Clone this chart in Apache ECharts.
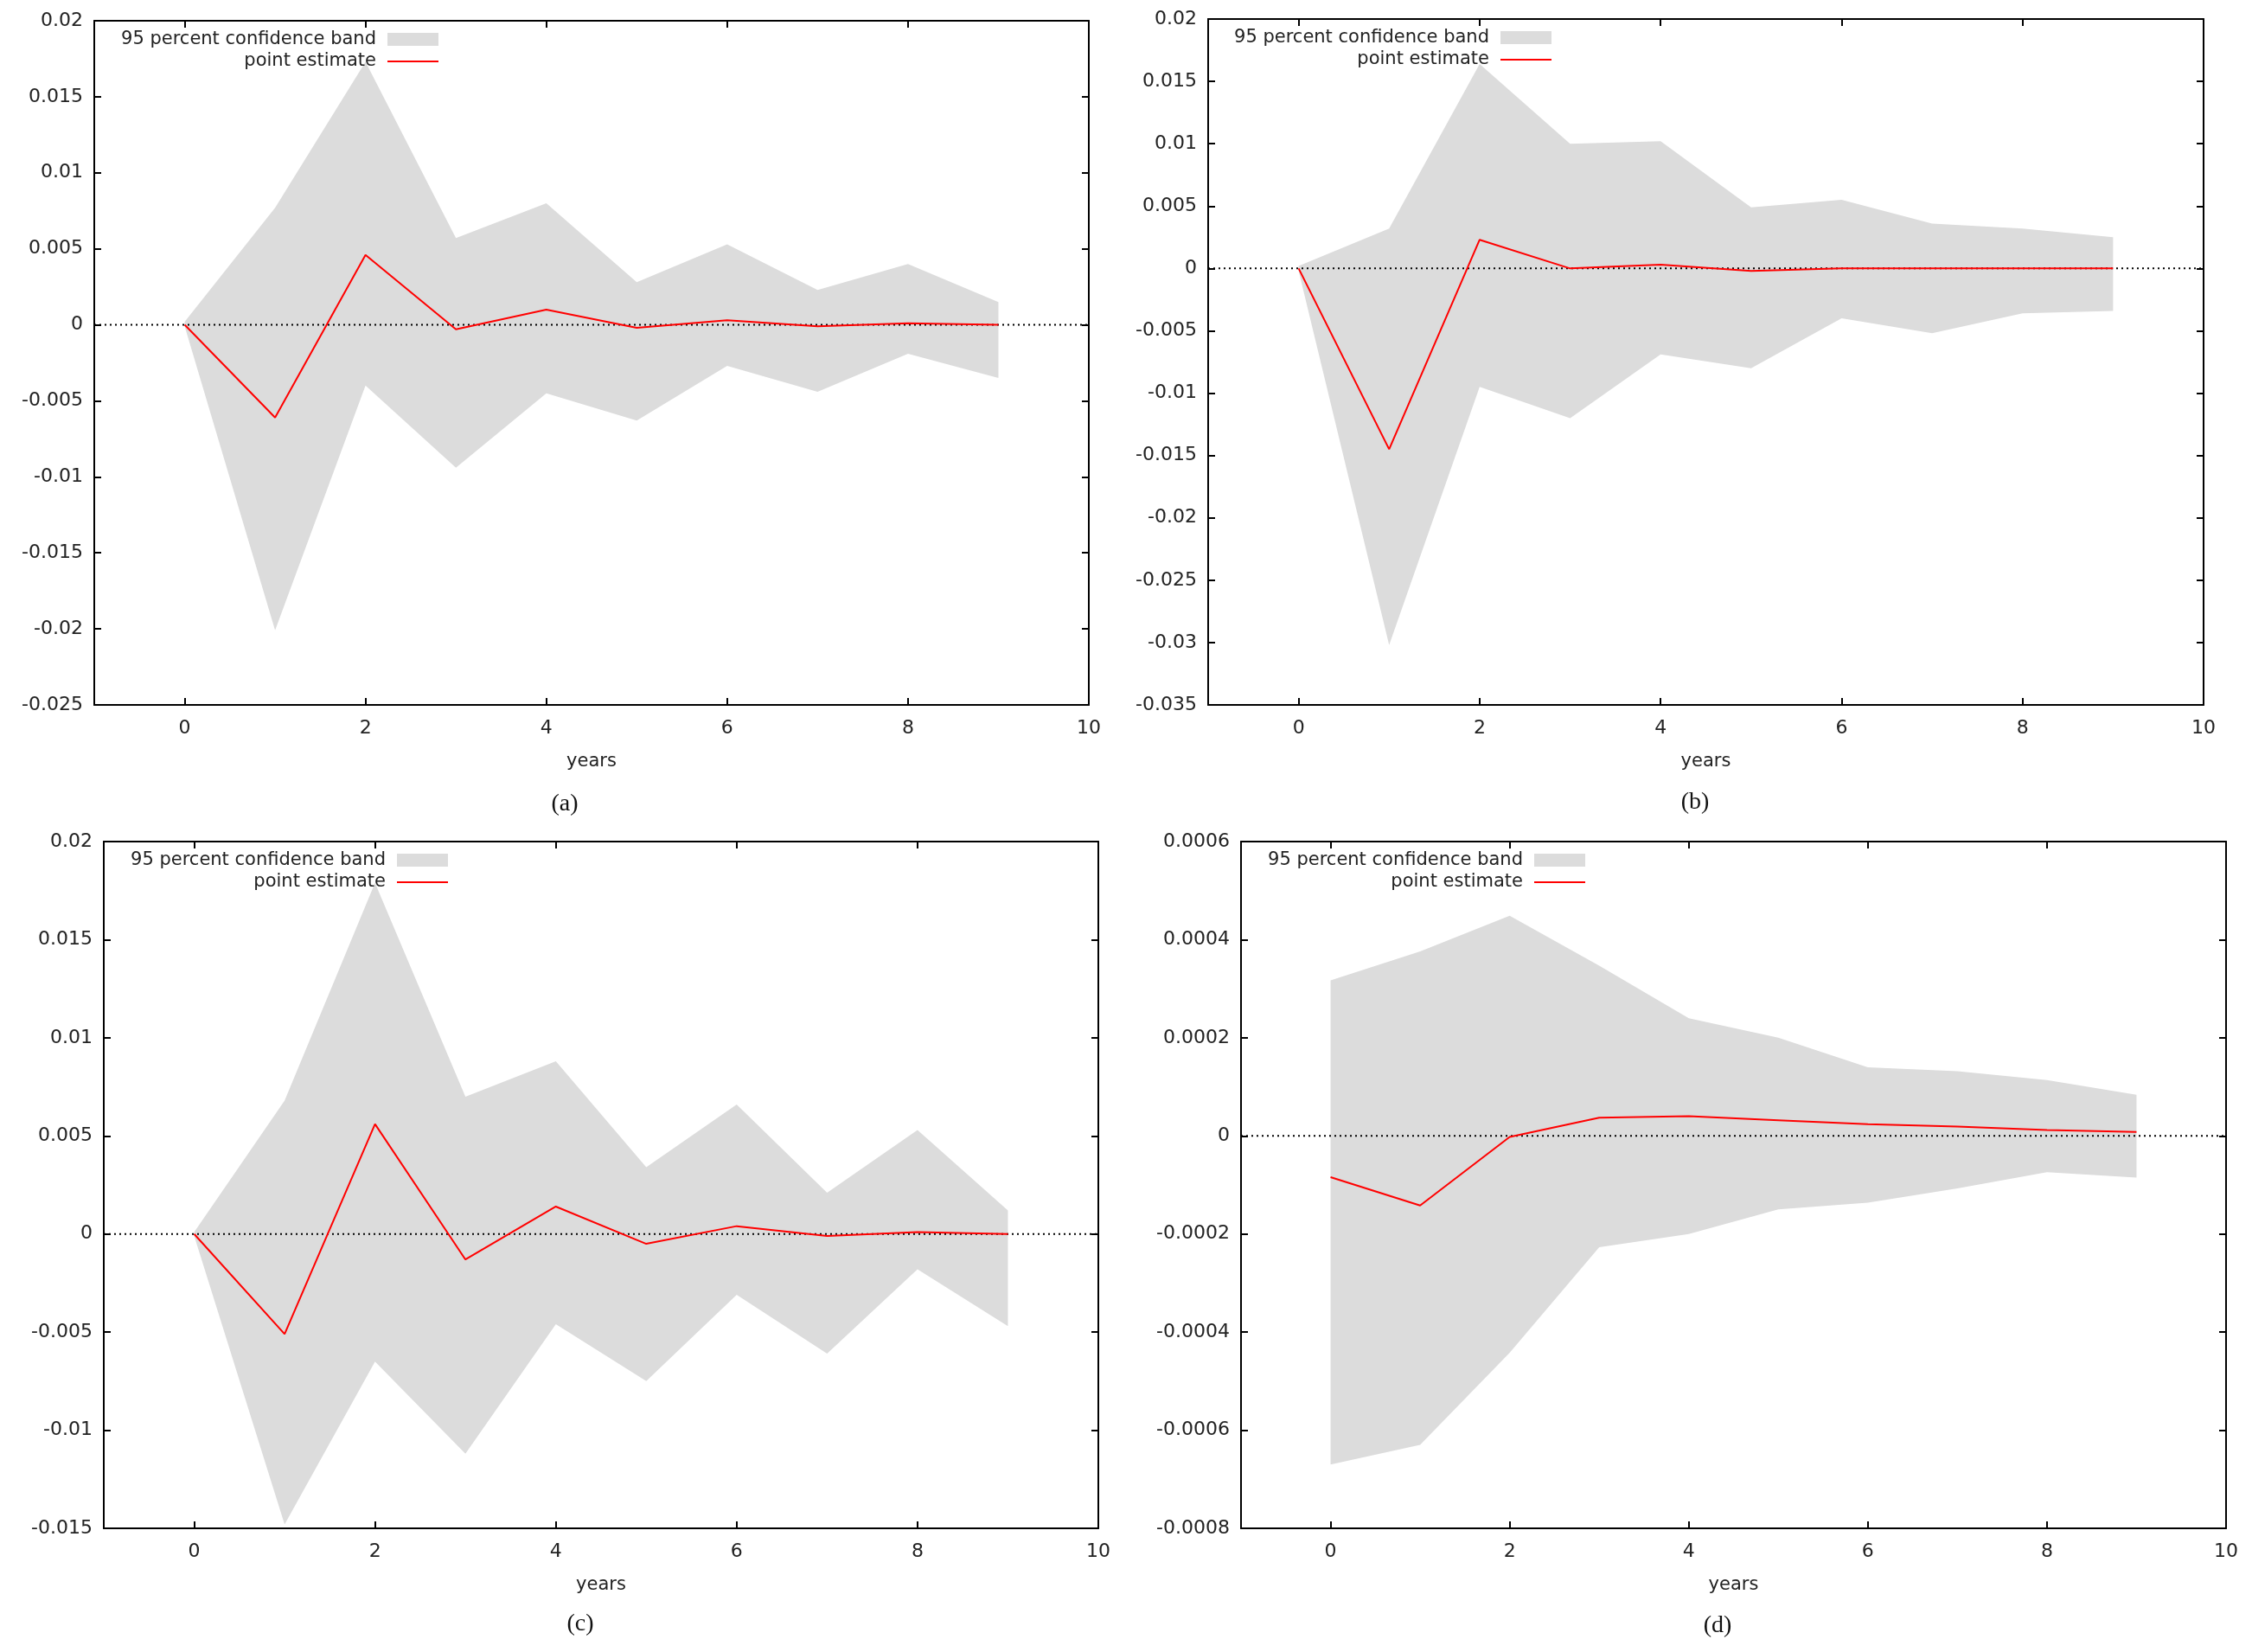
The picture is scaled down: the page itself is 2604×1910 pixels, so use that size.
<!DOCTYPE html>
<html>
<head>
<meta charset="utf-8">
<script src="https://cdn.jsdelivr.net/npm/echarts@6/dist/echarts.min.js"></script>
<style>
html,body{margin:0;padding:0;background:#fff;}
#chart{width:2604px;height:1910px;}
</style>
</head>
<body>
<div id="chart"></div>
<script>
// ---- data ----
const years = [0, 1, 2, 3, 4, 5, 6, 7, 8, 9];
const xTickValues = [0, 2, 4, 6, 8, 10];
const panelLabels = ['(a)', '(b)', '(c)', '(d)'];
const bandName = '95 percent confidence band';
const lineName = 'point estimate';
const xAxisTitle = 'years';

const estA = [0, -0.0061, 0.0046, -0.0003, 0.0010, -0.0002, 0.0003, -0.0001, 0.0001, 0];
const upperA = [0.0002, 0.0077, 0.0173, 0.0057, 0.0080, 0.0028, 0.0053, 0.0023, 0.0040, 0.0015];
const lowerA = [-0.0001, -0.0201, -0.0040, -0.0094, -0.0045, -0.0063, -0.0027, -0.0044, -0.0019, -0.0035];

const estB = [0, -0.0145, 0.0023, 0.0000, 0.0003, -0.0002, 0, 0, 0, 0];
const upperB = [0.0002, 0.0032, 0.0164, 0.0100, 0.0102, 0.0049, 0.0055, 0.0036, 0.0032, 0.0025];
const lowerB = [-0.0002, -0.0302, -0.0095, -0.0120, -0.0069, -0.0080, -0.0040, -0.0052, -0.0036, -0.0034];

const estC = [0, -0.0051, 0.0056, -0.0013, 0.0014, -0.0005, 0.0004, -0.0001, 0.0001, 0];
const upperC = [0.0001, 0.0068, 0.0179, 0.0070, 0.0088, 0.0034, 0.0066, 0.0021, 0.0053, 0.0012];
const lowerC = [-0.0001, -0.0148, -0.0065, -0.0112, -0.0046, -0.0075, -0.0031, -0.0061, -0.0018, -0.0047];

const estD = [-0.000084, -0.000142, -0.000002, 0.000037, 0.000040, 0.000032, 0.000024, 0.000019, 0.000012, 0.000008];
const upperD = [0.000317, 0.000376, 0.000449, 0.000347, 0.000240, 0.000200, 0.000140, 0.000132, 0.000114, 0.000084];
const lowerD = [-0.000670, -0.000630, -0.000442, -0.000227, -0.000200, -0.000150, -0.000136, -0.000107, -0.000074, -0.000085];

const yRangeA = [-0.025, 0.02, 0.005];
const yRangeB = [-0.035, 0.02, 0.005];
const yRangeC = [-0.015, 0.02, 0.005];
const yRangeD = [-0.0008, 0.0006, 0.0002];

// ---- layout / style ----
const FONT = 'DejaVu Sans';
const TXT = '#222222';
const panels = [
  {est: estA, up: upperA, lo: lowerA, yr: yRangeA, grid: {left: 109, top: 24, width: 1150, height: 791},
   legend: {right: 2097, top: 35}, cap: [653, 930]},
  {est: estB, up: upperB, lo: lowerB, yr: yRangeB, grid: {left: 1397, top: 22, width: 1151, height: 793},
   legend: {right: 810, top: 33}, cap: [1960, 928]},
  {est: estC, up: upperC, lo: lowerC, yr: yRangeC, grid: {left: 120, top: 973, width: 1150, height: 794},
   legend: {right: 2086, top: 984}, cap: [671, 1878]},
  {est: estD, up: upperD, lo: lowerD, yr: yRangeD, grid: {left: 1435, top: 973, width: 1139, height: 794},
   legend: {right: 771, top: 984}, cap: [1986, 1880]}
];

const fmtY = v => String(+Number(v).toPrecision(4));
const lineAxis = {show: true, onZero: false, lineStyle: {color: '#000', width: 2}};
const tickIn = {show: true, inside: true, length: 8, lineStyle: {color: '#000', width: 2}};

const option = {
  animation: false,
  backgroundColor: '#ffffff',
  grid: [], xAxis: [], yAxis: [], series: [], legend: [], graphic: []
};

panels.forEach((p, i) => {
  option.grid.push(Object.assign({containLabel: false}, p.grid));
  // bottom x
  option.xAxis.push({
    type: 'value', gridIndex: i, position: 'bottom', min: -1, max: 10,
    axisLine: lineAxis,
    axisTick: Object.assign({customValues: xTickValues}, tickIn),
    axisLabel: {customValues: xTickValues, fontFamily: FONT, fontSize: 22, color: TXT, margin: 16},
    splitLine: {show: false},
    name: xAxisTitle, nameLocation: 'middle', nameGap: 55,
    nameTextStyle: {fontFamily: FONT, fontSize: 21, color: TXT}
  });
  // top x (mirror)
  option.xAxis.push({
    type: 'value', gridIndex: i, position: 'top', min: -1, max: 10,
    axisLine: lineAxis,
    axisTick: Object.assign({customValues: xTickValues}, tickIn),
    axisLabel: {show: false}, splitLine: {show: false}
  });
  // left y
  option.yAxis.push({
    type: 'value', gridIndex: i, position: 'left', min: p.yr[0], max: p.yr[1], interval: p.yr[2],
    axisLine: lineAxis, axisTick: tickIn,
    axisLabel: {formatter: fmtY, fontFamily: FONT, fontSize: 22, color: TXT, margin: 13},
    splitLine: {show: false}
  });
  // right y (mirror)
  option.yAxis.push({
    type: 'value', gridIndex: i, position: 'right', min: p.yr[0], max: p.yr[1], interval: p.yr[2],
    axisLine: lineAxis, axisTick: tickIn,
    axisLabel: {show: false}, splitLine: {show: false}
  });

  const xi = 2 * i, yi = 2 * i;
  // confidence band as polygon via the axis scales
  option.series.push({
    type: 'custom', name: bandName, xAxisIndex: xi, yAxisIndex: yi,
    itemStyle: {color: '#dcdcdc'},
    encode: {x: 0, y: [1, 2]},
    data: years.map((x, k) => [x, p.lo[k], p.up[k]]),
    renderItem: function (params, api) {
      if (params.dataIndexInside !== 0) return null;
      const n = params.dataInsideLength;
      const top = [], bot = [];
      for (let j = 0; j < n; j++) {
        const xv = api.value(0, j);
        bot.push(api.coord([xv, api.value(1, j)]));
        top.push(api.coord([xv, api.value(2, j)]));
      }
      const pts = top.concat(bot.reverse());
      return {type: 'polygon', shape: {points: pts}, style: {fill: '#dcdcdc', stroke: null}};
    },
    z: 1, silent: true
  });
  // zero reference line (dotted)
  option.series.push({
    type: 'line', name: 'zero', xAxisIndex: xi, yAxisIndex: yi,
    data: [[-1, 0], [10, 0]], symbol: 'none', silent: true,
    lineStyle: {color: '#000', width: 2, type: [2, 4]}, z: 2
  });
  // point estimate
  option.series.push({
    type: 'line', name: lineName, xAxisIndex: xi, yAxisIndex: yi,
    data: years.map((x, k) => [x, p.est[k]]), symbol: 'none', showSymbol: false,
    itemStyle: {color: '#ff0000'},
    lineStyle: {color: '#ff0000', width: 2}, z: 3, silent: true
  });

  option.legend.push({
    orient: 'vertical', align: 'right', right: p.legend.right, top: p.legend.top,
    padding: 0, itemGap: 4.5, itemWidth: 59, itemHeight: 15, selectedMode: false,
    symbolKeepAspect: true,
    textStyle: {fontFamily: FONT, fontSize: 21, color: TXT, padding: [0, 8, 0, 0]},
    data: [
      {name: bandName, icon: 'rect', itemStyle: {color: '#dcdcdc'}},
      {name: lineName, icon: 'path://M0,0 L59,0 L59,2 L0,2 Z', itemStyle: {color: '#ff0000'}}
    ]
  });

  option.graphic.push({
    type: 'text', x: p.cap[0], y: p.cap[1],
    style: {text: panelLabels[i], fontFamily: 'Liberation Serif', fontSize: 28, fill: '#111',
            align: 'center', verticalAlign: 'middle'}
  });
});

const chart = echarts.init(document.getElementById('chart'), null, {renderer: 'canvas'});
chart.setOption(option);
</script>
</body>
</html>
